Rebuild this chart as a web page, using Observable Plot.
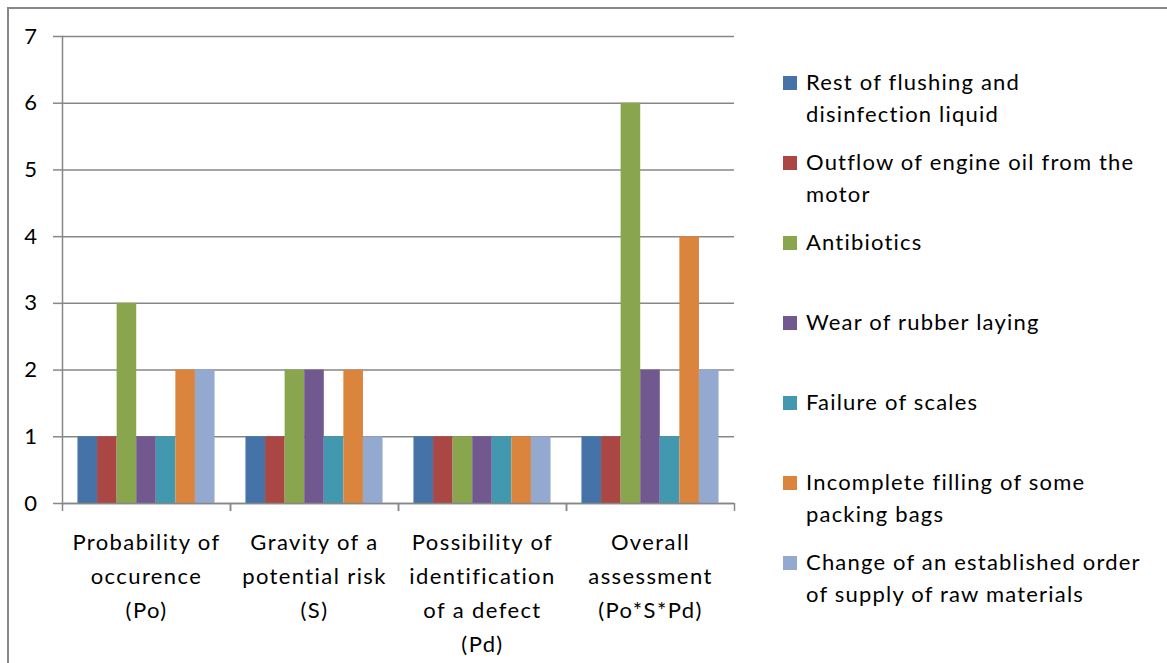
<!DOCTYPE html>
<html><head><meta charset="utf-8">
<script src="https://cdn.jsdelivr.net/npm/d3@7"></script>
<script src="https://cdn.jsdelivr.net/npm/@observablehq/plot@0.6"></script>
<style>
body{margin:0;background:#fff;overflow:hidden;font-family:Lato,sans-serif}
#wrap{position:relative;width:1167px;height:663px;overflow:hidden;background:#fff}
#border{position:absolute;left:7px;top:7px;width:1220px;height:720px;border:2px solid #878787;box-sizing:border-box}
#chart{position:absolute;left:0;top:0}
#legend{position:absolute;left:783px;top:0}
.txt{position:absolute;left:23px;white-space:pre;font-size:22px;line-height:32px;color:#000;font-family:Lato,sans-serif;letter-spacing:1.2px}
.sw{position:absolute;left:0;width:14px;height:14px}
</style></head><body>
<div id="wrap"><div id="border"></div><div id="chart"></div><div id="legend"></div></div>
<script>
// Categories (x groups) and their axis labels
const categories = ["Probability of occurence (Po)", "Gravity of a potential risk (S)", "Possibility of identification of a defect (Pd)", "Overall assessment (Po*S*Pd)"];
const categoryLabels = ["Probability of\noccurence\n(Po)", "Gravity of a\npotential risk\n(S)", "Possibility of\nidentification\nof a defect\n(Pd)", "Overall\nassessment\n(Po*S*Pd)"];

// Series names and legend labels
const series = ["Rest of flushing and disinfection liquid", "Outflow of engine oil from the motor", "Antibiotics", "Wear of rubber laying", "Failure of scales", "Incomplete filling of some packing bags", "Change of an established order of supply of raw materials"];
const legendLabels = ["Rest of flushing and\ndisinfection liquid", "Outflow of engine oil from the\nmotor", "Antibiotics", "Wear of rubber laying", "Failure of scales", "Incomplete filling of some\npacking bags", "Change of an established order\nof supply of raw materials"];
const colors = ["#4572A7", "#AA4643", "#89A54E", "#71588F", "#4198AF", "#DB843D", "#93A9CF"];

// Values per series (one per category)
const restFlushing = [1, 1, 1, 1];
const engineOil = [1, 1, 1, 1];
const antibiotics = [3, 2, 1, 6];
const rubberLaying = [1, 2, 1, 2];
const scalesFailure = [1, 1, 1, 1];
const incompleteFilling = [2, 2, 1, 4];
const supplyOrder = [2, 1, 1, 2];
const seriesValues = [restFlushing, engineOil, antibiotics, rubberLaying, scalesFailure, incompleteFilling, supplyOrder];

const yTicks = [0, 1, 2, 3, 4, 5, 6, 7];

const data = [];
categories.forEach((c, ci) => series.forEach((s, si) => data.push({category: c, series: s, value: seriesValues[si][ci]})));

const W = 760, ML = 62, MR = 26;
const po = 0.79;
const gray = "#878787";
const halfFacet = (W - ML - MR) / categories.length / 2;

const chart = Plot.plot({
  width: W, height: 663,
  marginLeft: ML, marginRight: MR, marginTop: 36, marginBottom: 160,
  style: {fontFamily: "Lato, sans-serif", fontSize: "22px", color: "#000", background: "transparent", overflow: "visible", letterSpacing: "1.4px"},
  fx: {domain: categories, padding: 0, round: false, label: null},
  x: {domain: series, paddingInner: 0, paddingOuter: po, round: false, axis: null},
  y: {domain: [0, 7], label: null},
  color: {domain: series, range: colors},
  marks: [
    Plot.gridY(yTicks, {stroke: gray, strokeOpacity: 1, strokeWidth: 1.5}),
    Plot.barY(data, {fx: "category", x: "series", y: "value", fill: "series"}),
    Plot.ruleY([0], {stroke: gray, strokeWidth: 1.5}),
    Plot.frame({anchor: "left", facetAnchor: "left", stroke: gray, strokeWidth: 1.5}),
    Plot.axisY({ticks: yTicks, tickFormat: "d", tickSize: 9, tickPadding: 15, stroke: gray, strokeWidth: 1.5, strokeOpacity: 1, label: null}),
    Plot.axisFx({anchor: "bottom", tickSize: 8, tickFormat: () => "", dx: -halfFacet, stroke: gray, strokeWidth: 1.5, strokeOpacity: 1, label: null}),
    Plot.axisFx({anchor: "bottom", tickSize: 8, tickFormat: () => "", dx: halfFacet, stroke: gray, strokeWidth: 1.5, strokeOpacity: 1, label: null}),
    Plot.axisFx({anchor: "bottom", tickSize: 0, tickPadding: 22, lineHeight: 1.55, label: null,
      tickFormat: d => categoryLabels[categories.indexOf(d)]})
  ]
});
document.getElementById("chart").appendChild(chart);

// Legend built from the chart's color scale
const cs = chart.scale("color");
const legend = document.getElementById("legend");
cs.domain.forEach((s, i) => {
  const cy = 83 + 80 * i;
  const sw = document.createElement("div");
  sw.className = "sw"; sw.style.top = (cy - 7) + "px"; sw.style.background = cs.range[i];
  const t = document.createElement("div");
  t.className = "txt"; t.style.top = (cy - 17) + "px"; t.textContent = legendLabels[series.indexOf(s)];
  legend.appendChild(sw); legend.appendChild(t);
});
</script>
</body></html>
